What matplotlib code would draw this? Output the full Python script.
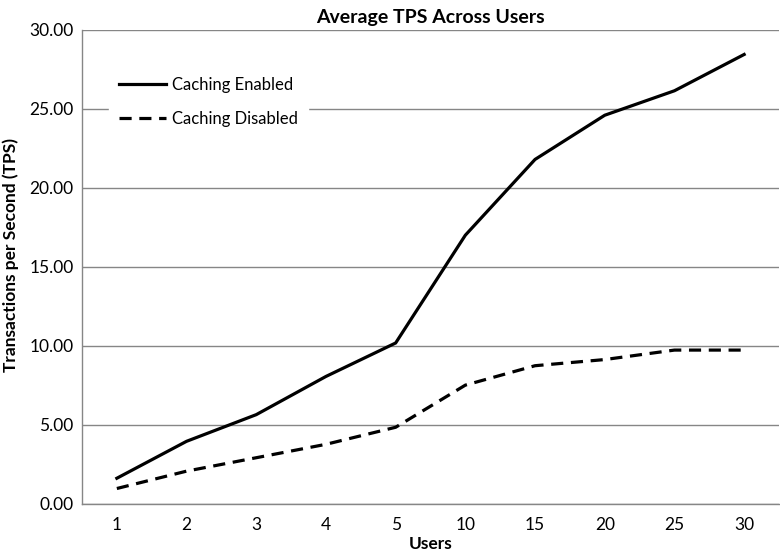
import matplotlib
matplotlib.use("Agg")
import matplotlib.pyplot as plt
from matplotlib.ticker import FormatStrFormatter

# data
users = ["1", "2", "3", "4", "5", "10", "15", "20", "25", "30"]
tps_enabled = [1.60, 3.94, 5.63, 8.05, 10.17, 17.0, 21.8, 24.6, 26.15, 28.45]
tps_disabled = [0.95, 2.05, 2.90, 3.75, 4.83, 7.50, 8.73, 9.12, 9.72, 9.72]
y_ticks = [0, 5, 10, 15, 20, 25, 30]

plt.rcParams['font.family'] = ['Lato', 'DejaVu Sans']

W, H = 780, 552
fig = plt.figure(figsize=(W / 100, H / 100), dpi=100)
ax = fig.add_axes([82 / W, 1 - 503.5 / H, (779 - 82) / W, (503.5 - 30) / H])

x = list(range(len(users)))
ax.plot(x, tps_enabled, color='black', linewidth=2.3, label='Caching Enabled',
        solid_joinstyle='miter')
ax.plot(x, tps_disabled, color='black', linewidth=2.3, dashes=(3.8, 2.4),
        label='Caching Disabled')

ax.set_xlim(-0.5, len(users) - 0.5)
ax.set_ylim(0, 30)
ax.set_xticks(x)
ax.set_xticklabels(users)
ax.set_yticks(y_ticks)
ax.yaxis.set_major_formatter(FormatStrFormatter('%.2f'))
ax.tick_params(axis='both', length=0, labelsize=12.5, colors='black')
ax.tick_params(axis='y', pad=6)
ax.tick_params(axis='x', pad=10)

ax.grid(axis='y', color='#868686', linewidth=1.0)
ax.set_axisbelow(True)
for side in ['top', 'right']:
    ax.spines[side].set_visible(False)
for side in ['left', 'bottom']:
    ax.spines[side].set_color('#868686')
    ax.spines[side].set_linewidth(1.0)

ax.set_title('Average TPS Across Users', fontsize=14, fontweight='bold', pad=5)
ax.set_xlabel('Users', fontsize=12.5, fontweight='bold', labelpad=2)
ax.set_ylabel('Transactions per Second (TPS)', fontsize=12.5, fontweight='bold')
ax.yaxis.set_label_coords(-0.09, 0.525)

leg = ax.legend(loc='upper left', bbox_to_anchor=(0.027, 0.939), frameon=True,
                fontsize=12, handlelength=2.8, handletextpad=0.36,
                labelspacing=1.04, borderpad=0.6)
leg.get_frame().set_edgecolor('white')
leg.get_frame().set_facecolor('white')
leg.get_frame().set_alpha(1)
leg.get_frame().set_boxstyle('square', pad=0)

fig.savefig('out.png', dpi=100)
